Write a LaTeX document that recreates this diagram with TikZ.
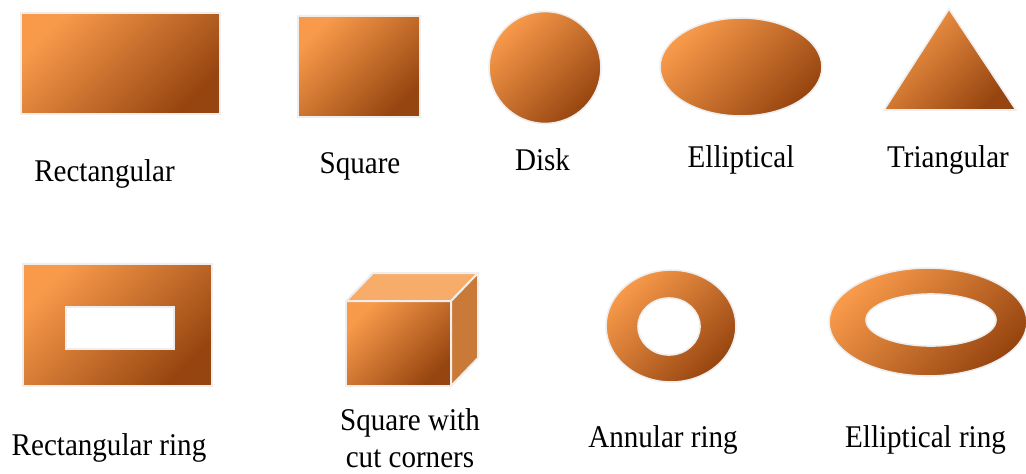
\documentclass[tikz,border=0pt]{standalone}
\usepackage{fontspec}
\setmainfont[FakeStretch=0.92]{Liberation Serif}
\definecolor{shapelight}{HTML}{F89A4A}
\definecolor{shapedark}{HTML}{974510}
\definecolor{shapeedge}{HTML}{EEEEEE}
\definecolor{cubetop}{HTML}{F8AC6A}
\definecolor{cubeside}{HTML}{C97A38}

\begin{document}
\begin{tikzpicture}[
  x=0.5pt, y=-0.5pt,
  body/.style={draw=shapeedge, line width=0.8pt, top color=shapelight, bottom color=shapedark, shading angle=45},
  face/.style={draw=shapeedge, line width=1pt, line join=round},
  lbl/.style={anchor=base, font=\fontsize{15.8}{18.5}\selectfont, align=center, inner sep=1pt}
]
\useasboundingbox (0,0) rectangle (1026,473);

% Top row
\path[body] (21,13) rectangle (220,114);
\path[body] (298,16) rectangle (420,117);
\path[body] (545,67.5) circle [radius=56];
\path[body] (741,67) ellipse [x radius=81, y radius=49];
\path[body] (949,9) -- (884,110) -- (1016,110) -- cycle;

% Bottom row
\path[body, even odd rule] (23,264) rectangle (212,386) (66,307) rectangle (174,349);
\path[body] (346,301) rectangle (451,386);
\path[face, fill=cubetop] (346,301) -- (373,273) -- (478,273) -- (451,301) -- cycle;
\path[face, fill=cubeside] (451,301) -- (478,273) -- (478,358) -- (451,386) -- cycle;
\path[body, even odd rule] (671,326) ellipse [x radius=65, y radius=56]
  (669,326.5) ellipse [x radius=31, y radius=28.5];
\path[body, even odd rule] (928,322) ellipse [x radius=99, y radius=54]
  (931,320) ellipse [x radius=65, y radius=26];

% Labels
\node[lbl] (rectlbl)    at (104.5,181) {Rectangular};
\node[lbl] (squarelbl)  at (360,173)   {Square};
\node[lbl] (disklbl)    at (542.5,170) {Disk};
\node[lbl] (elliplbl)   at (741,167)   {Elliptical};
\node[lbl] (trilbl)     at (948,167)   {Triangular};
\node[lbl] (rectringlbl) at (109,455)  {Rectangular ring};
\node[lbl] (cutlbl)     at (410,467)   {Square with\\cut corners};
\node[lbl] (annularlbl) at (663,447)   {Annular ring};
\node[lbl] (ellringlbl) at (925.5,447) {Elliptical ring};
\end{tikzpicture}
\end{document}
